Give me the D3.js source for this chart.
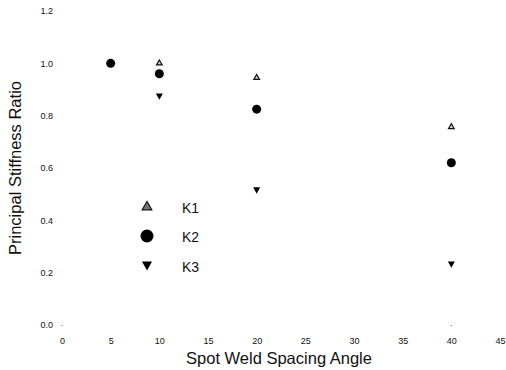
<!DOCTYPE html>
<html>
<head>
<meta charset="utf-8">
<script src="https://cdn.jsdelivr.net/npm/d3@7/dist/d3.min.js"></script>
<style>
  html, body { margin: 0; padding: 0; background: #fff; }
  svg { display: block; font-family: "Liberation Sans", Arial, sans-serif; }
</style>
</head>
<body>
<svg id="chart" width="506" height="370"></svg>
<script>
// Spot weld spacing angle (degrees) and principal stiffness ratios
const anglesK1 = [10, 20, 40];
const valuesK1 = [1.0, 0.945, 0.757];
const anglesK2 = [5, 10, 20, 40];
const valuesK2 = [1.0, 0.96, 0.825, 0.62];
const anglesK3 = [10, 20, 40];
const valuesK3 = [0.873, 0.514, 0.231];

const xTicks = [0, 5, 10, 15, 20, 25, 30, 35, 40, 45];
const yTicks = [0, 0.2, 0.4, 0.6, 0.8, 1.0, 1.2];
const seriesNames = ["K1", "K2", "K3"];

const svg = d3.select("#chart");
const x = d3.scaleLinear().domain([0, 45]).range([62, 500]);
const y = d3.scaleLinear().domain([0, 1.2]).range([325, 11]);

// Axes: labels only, no domain lines or tick strokes
const xAxis = svg.append("g")
  .attr("transform", "translate(0,335)")
  .call(d3.axisBottom(x).tickValues(xTicks).tickSize(0).tickFormat(d3.format("d")));
xAxis.select(".domain").remove();
xAxis.selectAll("text").attr("font-size", 9).attr("fill", "#111")
  .attr("font-family", "Liberation Sans, Arial, sans-serif");

const yAxis = svg.append("g")
  .attr("transform", "translate(53,0)")
  .call(d3.axisLeft(y).tickValues(yTicks).tickSize(0).tickFormat(d3.format(".1f")));
yAxis.select(".domain").remove();
yAxis.selectAll("text").attr("font-size", 9).attr("fill", "#111").attr("x", 0)
  .attr("font-family", "Liberation Sans, Arial, sans-serif");

// small residual tick marks on the baseline
svg.selectAll("rect.base").data([0, 40]).enter().append("rect")
  .attr("class", "base")
  .attr("x", d => x(d) - 0.5).attr("y", y(0))
  .attr("width", 1).attr("height", 1).attr("fill", "#666");

// Axis titles
svg.append("text")
  .attr("x", x(22.5) - 2).attr("y", 364)
  .attr("text-anchor", "middle").attr("font-size", 16.5).attr("fill", "#111")
  .text("Spot Weld Spacing Angle");
svg.append("text")
  .attr("transform", `translate(21,${y(0.6)}) rotate(-90)`)
  .attr("text-anchor", "middle").attr("font-size", 16.5).attr("fill", "#111")
  .text("Principal Stiffness Ratio");

const upTri = d3.symbol().type(d3.symbolTriangle);
const downTri = s => {
  const h = s * 0.9;
  return `M${-s / 2},${-h / 2}L${s / 2},${-h / 2}L0,${h / 2}Z`;
};

const plot = svg.append("g");

// K1: small open up-triangles
plot.selectAll("path.k1").data(d3.zip(anglesK1, valuesK1)).enter().append("path")
  .attr("class", "k1")
  .attr("d", upTri.size(14)())
  .attr("transform", d => `translate(${x(d[0])},${y(d[1])})`)
  .attr("fill", "#ccc").attr("stroke", "#111").attr("stroke-width", 1.2);

// K2: filled circles
plot.selectAll("circle.k2").data(d3.zip(anglesK2, valuesK2)).enter().append("circle")
  .attr("class", "k2")
  .attr("cx", d => x(d[0])).attr("cy", d => y(d[1])).attr("r", 4.5)
  .attr("fill", "#000");

// K3: filled down-triangles
plot.selectAll("path.k3").data(d3.zip(anglesK3, valuesK3)).enter().append("path")
  .attr("class", "k3")
  .attr("d", downTri(7))
  .attr("transform", d => `translate(${x(d[0])},${y(d[1])})`)
  .attr("fill", "#000");

// Legend
const legend = svg.append("g");
const legendY = [207, 236, 266];
seriesNames.forEach((name, i) => {
  const g = legend.append("g").attr("transform", `translate(147,${legendY[i]})`);
  if (i === 0) {
    g.append("path").attr("d", upTri.size(40)())
      .attr("fill", "#777").attr("stroke", "#111").attr("stroke-width", 1.2);
  } else if (i === 1) {
    g.append("circle").attr("r", 6.5).attr("fill", "#000");
  } else {
    g.append("path").attr("d", downTri(10)).attr("fill", "#000");
  }
  legend.append("text")
    .attr("x", 182).attr("y", legendY[i] + 5.5)
    .attr("font-size", 14).attr("fill", "#111")
    .text(name);
});
</script>
</body>
</html>
